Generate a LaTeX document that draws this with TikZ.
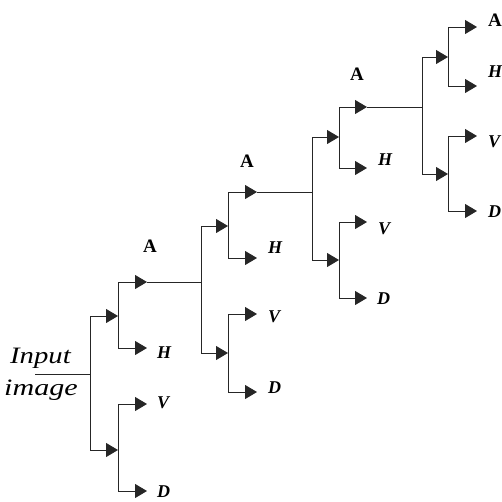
\documentclass[tikz,border=0pt]{standalone}
\usepackage{fontspec}
\setmainfont{Liberation Serif}
\usetikzlibrary{arrows.meta}
\tikzset{
  wire/.style={line width=0.9pt, draw=black!85},
  arr/.style={wire, -{Triangle[length=12pt,width=14pt]}},
  sub/.style={font=\fontsize{18}{20}\selectfont\bfseries\itshape, inner sep=0pt, anchor=west},
  apx/.style={font=\fontsize{19}{21}\selectfont\bfseries, inner sep=0pt},
  intext/.style={font=\fontsize{23.5}{26}\selectfont\itshape, inner sep=0pt, anchor=base west}
}
\begin{document}
\begin{tikzpicture}[x=1pt,y=-1pt]
\useasboundingbox (0,0) rectangle (502,501);
% input
\node[intext] (tin) at (10,363) {\scalebox{1.22}[1]{Input}};
\node[intext] (tim) at (4,395) {\scalebox{1.28}[1]{image}};
\coordinate (in) at (35,374);
\coordinate (j1) at (90,374);
\coordinate (a1u) at (118,316);
\coordinate (a1l) at (118,450);
\coordinate (t1A) at (147,282);
\coordinate (t1H) at (147,348);
\coordinate (t1V) at (147,404);
\coordinate (t1D) at (147,491);
\draw[wire] (in) -- (j1);
\draw[arr] (j1) |- (a1u);
\draw[arr] (j1) |- (a1l);
\draw[arr] (a1u) |- (t1A);
\draw[arr] (a1u) |- (t1H);
\draw[arr] (a1l) |- (t1V);
\draw[arr] (a1l) |- (t1D);
\node[apx] (l1A) at (150,246) {A};
\node[sub] (l1H) at (157,353) {H};
\node[sub] (l1V) at (157,403) {V};
\node[sub] (l1D) at (157,492) {D};
% stage 2
\coordinate (j2) at (201,282);
\coordinate (a2u) at (228,226);
\coordinate (a2l) at (228,353);
\coordinate (t2A) at (257,192);
\coordinate (t2H) at (257,258);
\coordinate (t2V) at (257,314);
\coordinate (t2D) at (257,392);
\draw[wire] (t1A) -- (j2);
\draw[arr] (j2) |- (a2u);
\draw[arr] (j2) |- (a2l);
\draw[arr] (a2u) |- (t2A);
\draw[arr] (a2u) |- (t2H);
\draw[arr] (a2l) |- (t2V);
\draw[arr] (a2l) |- (t2D);
\node[apx] (l2A) at (247,161) {A};
\node[sub] (l2H) at (268,248) {H};
\node[sub] (l2V) at (268,317) {V};
\node[sub] (l2D) at (268,388) {D};
% stage 3
\coordinate (j3) at (312,192);
\coordinate (a3u) at (339,137);
\coordinate (a3l) at (339,260);
\coordinate (t3A) at (367,107);
\coordinate (t3H) at (367,168);
\coordinate (t3V) at (367,222);
\coordinate (t3D) at (367,298);
\draw[wire] (t2A) -- (j3);
\draw[arr] (j3) |- (a3u);
\draw[arr] (j3) |- (a3l);
\draw[arr] (a3u) |- (t3A);
\draw[arr] (a3u) |- (t3H);
\draw[arr] (a3l) |- (t3V);
\draw[arr] (a3l) |- (t3D);
\node[apx] (l3A) at (357,74) {A};
\node[sub] (l3H) at (378,160) {H};
\node[sub] (l3V) at (378,229) {V};
\node[sub] (l3D) at (377,299) {D};
% stage 4
\coordinate (j4) at (422,107);
\coordinate (a4u) at (448,57);
\coordinate (a4l) at (448,174);
\coordinate (t4A) at (477,27);
\coordinate (t4H) at (477,86);
\coordinate (t4V) at (477,136);
\coordinate (t4D) at (477,211);
\draw[wire] (t3A) -- (j4);
\draw[arr] (j4) |- (a4u);
\draw[arr] (j4) |- (a4l);
\draw[arr] (a4u) |- (t4A);
\draw[arr] (a4u) |- (t4H);
\draw[arr] (a4l) |- (t4V);
\draw[arr] (a4l) |- (t4D);
\node[apx, anchor=west] (l4A) at (488,20) {A};
\node[sub] (l4H) at (488,72) {H};
\node[sub] (l4V) at (488,142) {V};
\node[sub] (l4D) at (488,212) {D};
\end{tikzpicture}
\end{document}
